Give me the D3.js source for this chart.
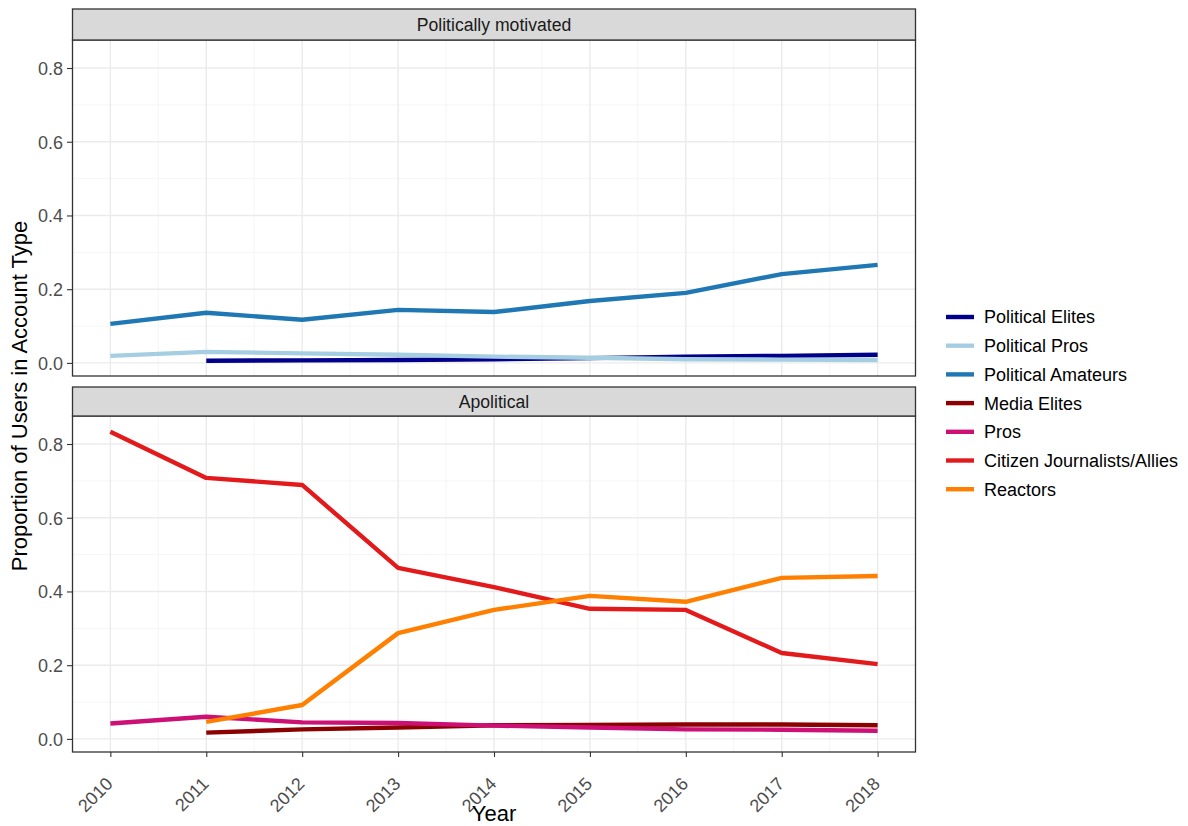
<!DOCTYPE html>
<html><head><meta charset="utf-8">
<script src="https://cdn.jsdelivr.net/npm/d3@7"></script>
<style>body{margin:0;background:#fff;} text{font-family:"Liberation Sans",Arial,sans-serif;}</style>
</head><body>
<svg id="c" width="1188" height="826"></svg>
<script>
const years = [2010,2011,2012,2013,2014,2015,2016,2017,2018];
const panels = ["Politically motivated","Apolitical"];
const seriesNames = ["Political Elites","Political Pros","Political Amateurs","Media Elites","Pros","Citizen Journalists/Allies","Reactors"];
const seriesPanel = ["Politically motivated","Politically motivated","Politically motivated","Apolitical","Apolitical","Apolitical","Apolitical"];
const seriesColors = ["#00008b","#a6cee3","#1f78b4","#8b0000","#cd1076","#e31a1c","#ff7f00"];
// values per year (null = no data)
const politicalElites   = [null,0.006,0.007,0.008,0.010,0.013,0.017,0.019,0.022];
const politicalPros     = [0.019,0.030,0.026,0.022,0.017,0.014,0.010,0.009,0.008];
const politicalAmateurs = [0.106,0.136,0.117,0.144,0.138,0.168,0.190,0.241,0.266];
const mediaElites       = [null,0.017,0.026,0.031,0.037,0.038,0.039,0.039,0.037];
const pros              = [0.042,0.060,0.045,0.043,0.036,0.031,0.026,0.025,0.022];
const citizenJournalists= [0.833,0.708,0.689,0.464,0.412,0.353,0.350,0.233,0.203];
const reactors          = [null,0.046,0.092,0.287,0.350,0.388,0.372,0.437,0.442];
const seriesValues = [politicalElites,politicalPros,politicalAmateurs,mediaElites,pros,citizenJournalists,reactors];
const yTicks = [0,0.2,0.4,0.6,0.8];
const yMinor = [0.1,0.3,0.5,0.7];

const svg = d3.select("#c");
const L=72, R=916;
const FS = 18;
const panelBoxes = [{strip:[9,40],body:[40,376]},{strip:[387,416],body:[416,752]}];
const x = d3.scaleLinear().domain([2009.6,2018.4]).range([L,R]);
const xMinor = d3.range(2010.5,2018,1);

panels.forEach((p,pi)=>{
  const b = panelBoxes[pi];
  const y = d3.scaleLinear().domain([-0.0355,0.876]).range([b.body[1],b.body[0]]);
  const g = svg.append("g");
  // grid
  g.selectAll(".ym").data(yMinor).join("line").attr("x1",L).attr("x2",R).attr("y1",d=>y(d)).attr("y2",d=>y(d)).attr("stroke","#f2f2f2").attr("stroke-width",0.8);
  g.selectAll(".xm").data(xMinor).join("line").attr("y1",b.body[0]).attr("y2",b.body[1]).attr("x1",d=>x(d)).attr("x2",d=>x(d)).attr("stroke","#f2f2f2").attr("stroke-width",0.8);
  g.selectAll(".yM").data(yTicks).join("line").attr("x1",L).attr("x2",R).attr("y1",d=>y(d)).attr("y2",d=>y(d)).attr("stroke","#ebebeb").attr("stroke-width",1.4);
  g.selectAll(".xM").data(years).join("line").attr("y1",b.body[0]).attr("y2",b.body[1]).attr("x1",d=>x(d)).attr("x2",d=>x(d)).attr("stroke","#ebebeb").attr("stroke-width",1.4);
  // lines
  const line = d3.line().defined(d=>d[1]!=null).x(d=>x(d[0])).y(d=>y(d[1]));
  seriesNames.forEach((s,si)=>{
    if(seriesPanel[si]!==p) return;
    const pts = years.map((yr,i)=>[yr,seriesValues[si][i]]);
    g.append("path").attr("d",line(pts)).attr("fill","none").attr("stroke",seriesColors[si]).attr("stroke-width",4.4).attr("stroke-linejoin","round");
  });
  // border
  g.append("rect").attr("x",L+0.5).attr("y",b.body[0]).attr("width",R-L-1).attr("height",b.body[1]-b.body[0]).attr("fill","none").attr("stroke","#333333").attr("stroke-width",1.3);
  // strip
  g.append("rect").attr("x",L+0.5).attr("y",b.strip[0]).attr("width",R-L-1).attr("height",b.strip[1]-b.strip[0]).attr("fill","#d9d9d9").attr("stroke","#333333").attr("stroke-width",1.3);
  g.append("text").attr("x",(L+R)/2).attr("y",(b.strip[0]+b.strip[1])/2+6.3).attr("text-anchor","middle").style("font-size","17.6px").attr("fill","#1a1a1a").text(p);
  // y axis
  const ya = g.append("g").attr("transform",`translate(${L},0)`).call(d3.axisLeft(y).tickValues(yTicks).tickFormat(d3.format(".1f")).tickSize(5).tickPadding(4));
  ya.select(".domain").remove();
  ya.selectAll("line").attr("stroke","#333333").attr("stroke-width",1.1);
  ya.selectAll("text").style("font-size",FS+"px").attr("fill","#4d4d4d").style("font-family","Liberation Sans, Arial, sans-serif").attr("dy","0.36em");
  if(pi===1){
    const xa = g.append("g").attr("transform",`translate(0,${b.body[1]})`).call(d3.axisBottom(x).tickValues(years).tickFormat(d3.format("d")).tickSize(5));
    xa.select(".domain").remove();
    xa.selectAll("line").attr("stroke","#333333").attr("stroke-width",1.1);
    xa.selectAll("text").style("font-size",FS+"px").attr("fill","#4d4d4d").style("font-family","Liberation Sans, Arial, sans-serif")
      .attr("text-anchor","end").attr("dy",null).attr("y",null).attr("x",null)
      .attr("transform","translate(3,33) rotate(-45)");
  }
});
// axis titles
svg.append("text").attr("transform","translate(27,396) rotate(-90)").attr("text-anchor","middle").style("font-size","22px").attr("fill","#000").text("Proportion of Users in Account Type");
svg.append("text").attr("x",(L+R)/2).attr("y",821).attr("text-anchor","middle").style("font-size","22px").attr("fill","#000").text("Year");
// legend
const lg = svg.append("g");
seriesNames.forEach((s,i)=>{
  const yy = 317 + i*28.7;
  lg.append("line").attr("x1",946).attr("x2",974).attr("y1",yy).attr("y2",yy).attr("stroke",seriesColors[i]).attr("stroke-width",4.4);
  lg.append("text").attr("x",984).attr("y",yy+6.4).style("font-size",FS+"px").attr("fill","#000").text(s);
});
</script>
</body></html>
